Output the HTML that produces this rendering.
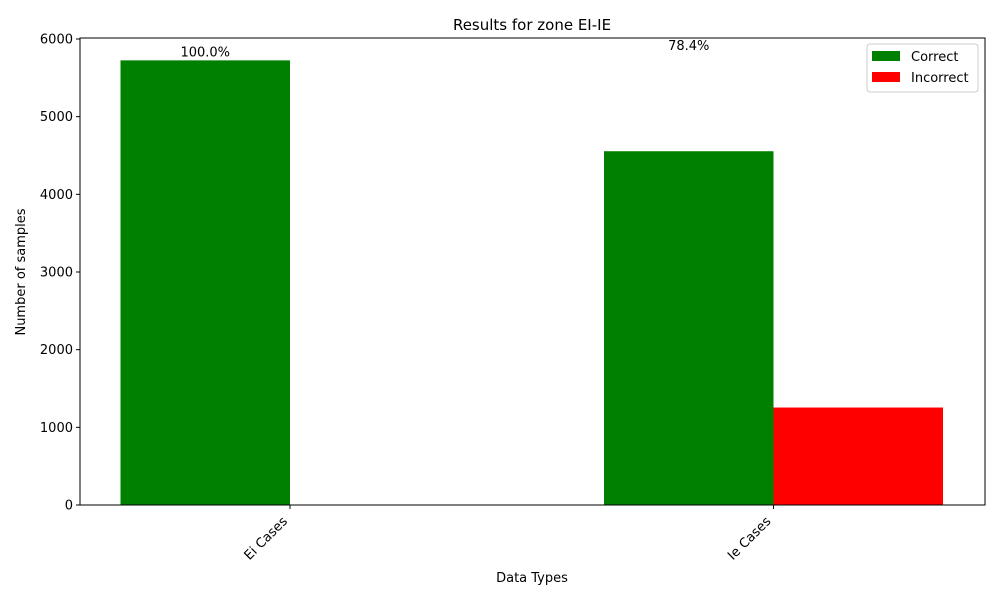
<!DOCTYPE html>
<html><head><meta charset="utf-8"><style>
body{margin:0;background:#fff}
svg text{font-family:"DejaVu Sans","Liberation Sans",sans-serif;fill:#000}
</style></head><body>
<svg width="1000" height="600" xmlns="http://www.w3.org/2000/svg">
<g id="plot"></g>
</svg>
<script>
const categories=["Ei Cases","Ie Cases"];
const correct=[5725,4555];
const incorrect=[0,1255];
const yTicks=[0,1000,2000,3000,4000,5000,6000];
const L=80,R=985,T=38,B=505;
const y=v=>B-(v/6000)*(505-39);
const xc=i=>290+i*483.5;
const bw=169.5;
const g=document.getElementById('plot');
const NS="http://www.w3.org/2000/svg";
function mk(t,a,txt){const e=document.createElementNS(NS,t);for(const k in a)e.setAttribute(k,a[k]);if(txt!==undefined)e.textContent=txt;g.appendChild(e);return e;}
categories.forEach((c,i)=>{
 const b1=mk('rect',{x:xc(i)-bw,y:y(correct[i]),width:bw,height:B-y(correct[i]),fill:'#008000'});
 
 
 const b2=mk('rect',{x:xc(i),y:y(incorrect[i]),width:bw,height:B-y(incorrect[i]),fill:'#ff0000'});
 
 
 const tot=correct[i]+incorrect[i];
 const p=(correct[i]/tot*100).toFixed(1)+'%';
 const lt=mk('text',{x:xc(i)-bw/2,y:y(tot)-4,'font-size':13,'text-anchor':'middle'},p);
 
 
 mk('line',{x1:xc(i),x2:xc(i),y1:B,y2:B+4,stroke:'#000'});
 const tx=xc(i)-2,ty=B+17;
 const tl=mk('text',{x:tx,y:ty,'font-size':13,'text-anchor':'end',transform:`rotate(-45 ${tx} ${ty})`},c);
 
 
});
yTicks.forEach(v=>{
 mk('line',{x1:L-4,x2:L,y1:y(v),y2:y(v),stroke:'#000'});
 const t=mk('text',{x:L-7,y:y(v)+4.5,'font-size':13,'text-anchor':'end'},v);
 
 
});
const fr=mk('rect',{x:L,y:T,width:R-L,height:B-T,fill:'none',stroke:'#000'});


const tt=mk('text',{x:532,y:30,'font-size':15,'text-anchor':'middle'},'Results for zone EI-IE');


const xt=mk('text',{x:532,y:582,'font-size':13,'text-anchor':'middle'},'Data Types');


const yt=mk('text',{x:25,y:272,'font-size':13,'text-anchor':'middle',transform:'rotate(-90 25 272)'},'Number of samples');


const lg=mk('rect',{x:867,y:44,width:111,height:48,fill:'#fff',stroke:'#ccc',rx:3});


mk('rect',{x:872,y:51,width:28,height:10,fill:'#008000'});
const l1=mk('text',{x:911,y:61,'font-size':13},'Correct');


mk('rect',{x:872,y:72,width:28,height:10,fill:'#ff0000'});
const l2=mk('text',{x:911,y:82,'font-size':13},'Incorrect');


</script>
</body></html>
